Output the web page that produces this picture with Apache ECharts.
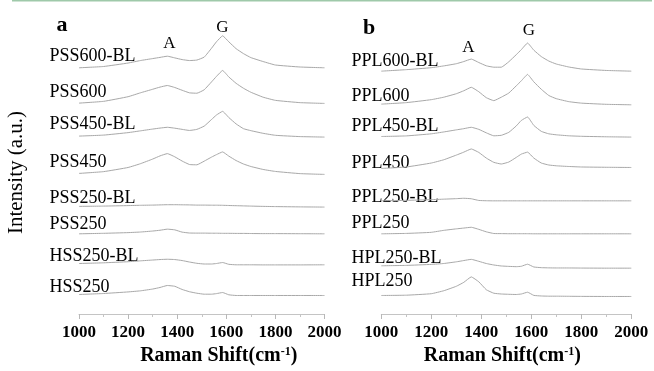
<!DOCTYPE html>
<html><head><meta charset="utf-8">
<script src="https://cdn.jsdelivr.net/npm/echarts@6/dist/echarts.min.js"></script>
<style>html,body{margin:0;padding:0;background:#fff}#c{width:654px;height:371px}</style>
</head><body><div id="c"></div>
<script>
// Raman shift sample positions (cm-1)
const shifts = [1000,1100,1200,1250,1300,1330,1360,1390,1420,1450,1480,1510,1540,1560,1585,1610,1640,1670,1700,1750,1800,1900,2000];
const xTicks = [1000,1200,1400,1600,1800,2000];

// Panel a spectra (arbitrary intensity units, stacked)
const pss600BL = [248.7,250.0,253.5,256.0,258.0,259.2,260.4,258.7,257.0,256.0,256.5,259.5,268.5,275,281,275,268,263,259,255,251.5,249.5,248.7];
const pss600   = [213,214.8,219.5,223.4,227,229.2,230.8,228.8,226,223.4,223,226.5,234.5,240,246,239.5,233,228,224,219,215.8,213.5,212.7];
const pss450BL = [179.7,180.7,183.2,185,186.8,187.8,188.6,187.7,186.5,185.4,186.5,189.8,196.5,201,204.7,198.5,192,187.2,185.2,182.5,180.5,179.2,178.7];
const pss450   = [142,143.8,148,151.8,156.5,159.7,162,158.8,154.5,151,150.7,154.4,158.5,161,163.7,159.5,155,151.5,149,146,144,141.8,141];
const pss250BL = [108.7,109,109.5,109.8,110,110.2,110.4,110.4,110.3,110.2,110,110,109.9,109.9,109.8,109.6,109.4,109.2,109,108.7,108.5,108.2,108];
const pss250   = [81,81.5,82.2,82.8,83.8,84.6,85.7,85,82.7,81.8,81.7,81.7,81.6,81.6,81.5,81.5,81.4,81.4,81.3,81.2,81.2,81.1,81];
const hss250BL = [51,51.7,52.8,53.7,54.5,55,55.3,55,54,52.5,51.2,50.5,50.5,51,52,50.2,49.7,49.7,49.7,49.6,49.6,49.6,49.7];
const hss250   = [19.7,20.7,22.3,23.4,25.2,26.8,28.8,28,24.8,22.5,21,20,20,20.6,21.7,19.4,18.7,18.7,18.7,18.7,18.7,18.7,18.7];

// Panel b spectra
const ppl600BL = [245.3,246.8,248.8,250.6,252.8,255,257.5,254,250.7,249.3,249.3,254.8,262,267,273.7,266.5,260,255.5,252.5,249.5,247.5,246,245.3];
const ppl600   = [212,213.5,216.5,219,222.5,225.5,229,224.5,218.5,215.5,219,223.2,230.5,235.5,242,234.5,227,220.7,217.5,214.5,213,211.8,211.3];
const ppl450BL = [179.3,179.9,182,183.9,186,187.2,188.6,186.5,183,180,180.5,183.5,190,195.5,199,190.5,184.5,182,181,180,179.5,179,178.7];
const ppl450   = [147,148.5,152.5,155.8,160.5,163.5,166.7,163.2,157.5,153.2,151.5,153.5,158.2,161.5,163.5,157.5,152.5,150.5,149.7,149,148.5,148.2,148];
const ppl250BL = [114.3,114.8,115.5,116,116.5,116.9,116.4,114.7,114.4,114.3,114.3,114.3,114.3,114.3,114.3,114.3,114.3,114.3,114.3,114.3,114.3,114.3,114.3];
const ppl250   = [81,81.4,82.5,84.5,86,86.8,87.6,85.5,83,81.3,81.2,81.1,81.1,81.1,81.1,81,81,81,81,81,81,81,81];
const hpl250BL = [48.7,49.1,50.1,51,52.7,54,55.2,53.2,51,49.5,48.5,48.1,47.8,48.2,50.3,47.5,46.8,46.6,46.5,46.5,46.4,46.3,46.3];
const hpl250   = [18.7,19,20.5,23.5,28,32,37.5,32.5,24.5,21,20.2,19.9,19.7,20.2,22,18.8,18.2,18,18,17.9,17.8,17.7,17.7];

const namesA = ['PSS600-BL','PSS600','PSS450-BL','PSS450','PSS250-BL','PSS250','HSS250-BL','HSS250'];
const valuesA = [pss600BL,pss600,pss450BL,pss450,pss250BL,pss250,hss250BL,hss250];
const namesB = ['PPL600-BL','PPL600','PPL450-BL','PPL450','PPL250-BL','PPL250','HPL250-BL','HPL250'];
const valuesB = [ppl600BL,ppl600,ppl450BL,ppl450,ppl250BL,ppl250,hpl250BL,hpl250];

// layout: sample-name label positions (pixels)
const labelLeftA = 49.5, labelLeftB = 351.5;
const labelYA = [55.8, 91.8, 124.2, 162.5, 197.8, 224.2, 255.8, 287.5];
const labelYB = [60.8, 96, 125.8, 163.5, 196.8, 223.7, 257.8, 281.2];

const FONT = "'Liberation Serif', 'Times New Roman', serif";
const chart = echarts.init(document.getElementById('c'), null, {renderer: 'canvas'});

function mkX(idx, pad) {
  return {
    type: 'value', gridIndex: idx, min: 1000, max: 2000, interval: 200,
    axisLine: {show: true, lineStyle: {color: '#c4c4c4', width: 1}},
    axisTick: {show: true, length: 5, lineStyle: {color: '#b8b8b8'}},
    minorTick: {show: true, splitNumber: 2, length: 3, lineStyle: {color: '#c4c4c4'}},
    splitLine: {show: false},
    axisLabel: {color: '#000', fontFamily: FONT, fontWeight: 'bold', fontSize: 17, margin: 10,
      formatter: v => xTicks.includes(v) ? String(v) : ''},
    name: '{b|Raman Shift(cm}{s|-1}{b|)}',
    nameLocation: 'middle', nameGap: 32,
    nameTextStyle: {padding: pad, rich: {
      b: {fontFamily: FONT, fontWeight: 'bold', fontSize: 20, color: '#000'},
      s: {fontFamily: FONT, fontWeight: 'bold', fontSize: 12, color: '#000', verticalAlign: 'top'}
    }}
  };
}
function mkY(idx, withName) {
  const y = {
    type: 'value', gridIndex: idx, min: 0, max: 300,
    axisLine: {show: false}, axisTick: {show: false}, axisLabel: {show: false}, splitLine: {show: false}
  };
  if (withName) {
    y.name = 'Intensity (a.u.)';
    y.nameLocation = 'middle';
    y.nameGap = 52;
    y.nameTextStyle = {fontFamily: FONT, fontSize: 21, color: '#000', padding: [0, 14, 0, 0]};
  }
  return y;
}
function mkSeries(vals, name, idx) {
  return {
    type: 'line', name: name, xAxisIndex: idx, yAxisIndex: idx,
    data: shifts.map((x, i) => [x, vals[i]]),
    showSymbol: false, symbol: 'none', smooth: 0.12,
    lineStyle: {color: '#a8a8a8', width: 1}, silent: true, animation: false
  };
}

const series = [];
valuesA.forEach((v, i) => series.push(mkSeries(v, namesA[i], 0)));
valuesB.forEach((v, i) => series.push(mkSeries(v, namesB[i], 1)));

chart.setOption({
  animation: false,
  backgroundColor: '#fff',
  grid: [
    {left: 79, top: 17, width: 245.5, height: 300},
    {left: 381.3, top: 17, width: 250, height: 300}
  ],
  xAxis: [mkX(0, [0, 0, 0, 34]), mkX(1, [0, 8, 0, 0])],
  yAxis: [mkY(0, true), mkY(1, false)],
  series: series
});

const g = [];
g.push({type: 'rect', shape: {x: 12, y: 0, width: 640, height: 1.5}, style: {fill: '#9fc9aa'}, silent: true});
function txt(text, x, y, size, bold, align) {
  g.push({type: 'text', x: x, y: y, silent: true,
    style: {text: text, fontFamily: FONT, fontSize: size, fontWeight: bold ? 'bold' : 'normal',
      fill: '#000', align: align || 'left', verticalAlign: 'middle'}});
}
namesA.forEach((n, i) => txt(n, labelLeftA, labelYA[i], 18, false, 'left'));
namesB.forEach((n, i) => txt(n, labelLeftB, labelYB[i], 18, false, 'left'));
txt('a', 62, 25, 22, true, 'center');
txt('b', 369, 28.5, 22, true, 'center');
txt('A', 169.5, 43.8, 17, false, 'center');
txt('G', 222.5, 27.5, 17, false, 'center');
txt('A', 468.5, 47.5, 17, false, 'center');
txt('G', 529, 30.8, 17, false, 'center');
chart.setOption({graphic: g});
</script></body></html>
